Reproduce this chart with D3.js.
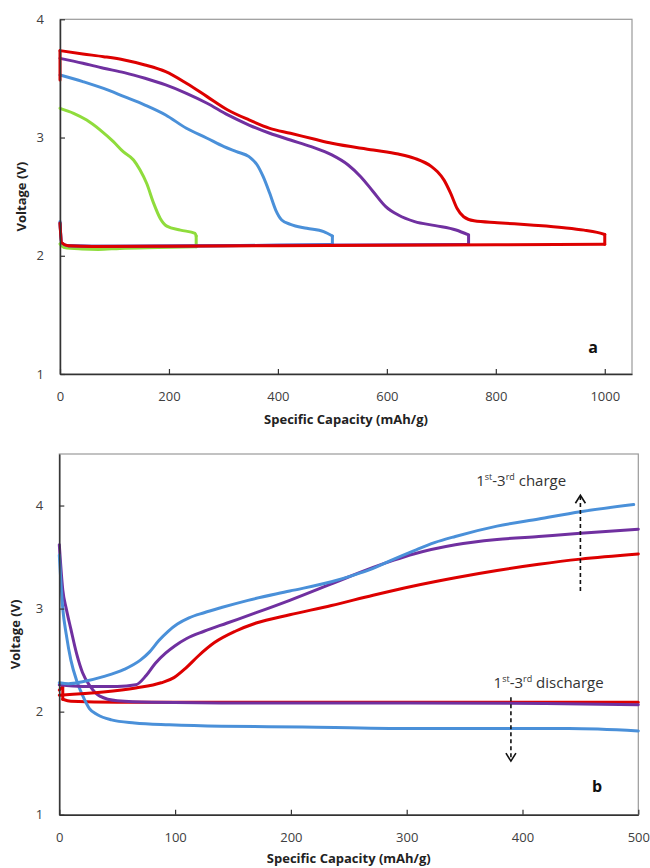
<!DOCTYPE html>
<html>
<head>
<meta charset="utf-8">
<script src="https://cdn.jsdelivr.net/npm/d3@7"></script>
<style>
  body { margin: 0; background: #fff; }
  text { font-family: "Open Sans", "DejaVu Sans", sans-serif; }
</style>
</head>
<body>
<div id="chart"></div>
<script>
// ---- panel a : capacity-limited cycles, [capacity mAh/g, voltage V] ----
var aGreen = [[0,2.10],[8,2.07],[40,2.058],[70,2.054],[110,2.062],[180,2.07],[250,2.077],
  [250,2.167],[248,2.19],[221,2.217],[196,2.251],[184,2.316],[172,2.443],[159,2.613],
  [147,2.725],[135,2.81],[116,2.88],[98,2.965],[74,3.063],[49,3.148],[25,3.205],[0,3.247]];

var aBlue = [[0,2.29],[3,2.11],[15,2.085],[100,2.08],[300,2.085],[500,2.095],
  [500,2.167],[484,2.204],[453,2.232],[423,2.266],[407,2.303],[396,2.387],[385,2.528],
  [373,2.669],[362,2.768],[347,2.838],[324,2.881],[301,2.923],[270,2.994],[232,3.078],
  [194,3.191],[156,3.275],[118,3.346],[80,3.416],[42,3.473],[0,3.529]];

var aPurple = [[0,2.28],[3,2.11],[15,2.085],[100,2.08],[400,2.088],[750,2.095],
  [750,2.176],[727,2.218],[689,2.255],[651,2.289],[621,2.345],[598,2.416],[575,2.542],
  [552,2.669],[529,2.768],[499,2.853],[461,2.923],[423,2.979],[385,3.036],[347,3.106],
  [308,3.191],[270,3.29],[232,3.374],[194,3.445],[156,3.501],[118,3.549],[80,3.586],
  [42,3.628],[0,3.67]];

var aRed = [[0,2.275],[3,2.11],[15,2.085],[60,2.078],[200,2.08],[400,2.085],[600,2.09],
  [800,2.093],[1000,2.097],[1000,2.18],[986,2.198],[962,2.217],[925,2.237],[864,2.26],
  [803,2.28],[760,2.296],[741,2.33],[729,2.40],[717,2.53],[705,2.64],[693,2.71],
  [682,2.754],[651,2.824],[621,2.861],[575,2.895],[499,2.951],[468,2.985],[423,3.036],
  [385,3.078],[347,3.149],[308,3.233],[270,3.346],[232,3.459],[194,3.557],[156,3.614],
  [118,3.656],[80,3.684],[42,3.707],[0,3.735],[0,3.487]];

// ---- panel b : 1st-3rd cycles ----
var bBlueDis = [[0,3.52],[3,3.0],[6,2.75],[10,2.5],[15,2.3],[20,2.16],[26,2.03],[33,1.97],
  [45,1.92],[65,1.89],[95,1.872],[140,1.858],[210,1.852],[310,1.836],[400,1.836],
  [440,1.836],[500,1.813]];
var bPurpleDis = [[0,3.62],[3,3.18],[6,3.0],[10,2.8],[15,2.56],[20,2.38],[27,2.24],
  [35,2.15],[50,2.105],[80,2.09],[140,2.085],[300,2.085],[420,2.08],[500,2.068]];
var bRedDis = [[0,2.21],[3,2.24],[3,2.12],[10,2.10],[50,2.09],[200,2.09],[400,2.09],[500,2.09]];

var bBlueChg = [[0,2.28],[8,2.27],[20,2.29],[38,2.34],[56,2.41],[70,2.50],[78,2.58],
  [86,2.69],[94,2.78],[102,2.85],[112,2.91],[125,2.96],[140,3.01],[163,3.08],[199,3.17],
  [235,3.26],[253,3.32],[271,3.39],[289,3.48],[306,3.56],[324,3.64],[342,3.70],
  [378,3.80],[414,3.87],[450,3.94],[496,4.01]];
var bPurpleChg = [[0,2.26],[20,2.245],[50,2.245],[66,2.26],[75,2.35],[83,2.47],[92,2.57],
  [100,2.64],[110,2.71],[125,2.78],[145,2.86],[170,2.96],[199,3.08],[235,3.24],
  [271,3.40],[289,3.47],[306,3.53],[342,3.62],[378,3.67],[414,3.70],[450,3.73],[500,3.77]];
var bRedChg = [[0,2.16],[38,2.19],[66,2.23],[88,2.28],[99,2.33],[109,2.42],[120,2.54],
  [134,2.67],[152,2.78],[170,2.86],[199,2.94],[235,3.03],[271,3.13],[306,3.22],
  [342,3.30],[378,3.37],[414,3.43],[450,3.48],[500,3.53]];

var aXTicks = [0, 200, 400, 600, 800, 1000];
var bXTicks = [0, 100, 200, 300, 400, 500];
var yTicks = [1, 2, 3, 4];

var red = "#dd0000", purple = "#7030a0", blue = "#4a90d9", green = "#8fdc3c";

var width = 650, height = 868;

var svg = d3.select("#chart").append("svg")
  .attr("width", width)
  .attr("height", height)
  .style("background", "#fff");

// split a loop into pieces that run one way in x, so each can be smoothed on its own
function runs(data) {
  var out = [], cur = [data[0]], dir = 0;
  for (var i = 1; i < data.length; i++) {
    var dx = data[i][0] - data[i - 1][0];
    var s = dx > 0 ? 1 : (dx < 0 ? -1 : 0);
    if (cur.length > 1 && (s !== dir || s === 0)) {
      out.push(cur);
      cur = [data[i - 1]];
    }
    dir = s;
    cur.push(data[i]);
  }
  out.push(cur);
  return out;
}

function panel(opt) {
  var x = d3.scaleLinear().domain(opt.xDomain).range([opt.left, opt.right]);
  var y = d3.scaleLinear().domain(opt.yDomain).range([opt.bottom, opt.top]);

  var g = svg.append("g");

  // frame (top/right are lighter)
  g.append("rect")
    .attr("x", opt.left).attr("y", opt.top)
    .attr("width", opt.right - opt.left).attr("height", opt.bottom - opt.top)
    .attr("fill", "none").attr("stroke", "#9a9a9a").attr("stroke-width", 1.2);

  var lineGen = d3.line()
    .x(function(d) { return x(d[0]); })
    .y(function(d) { return y(d[1]); })
    .curve(d3.curveMonotoneX);

  opt.series.forEach(function(s) {
    g.append("g").selectAll("path")
      .data(runs(s.data))
      .enter()
      .append("path")
      .attr("d", lineGen)
      .attr("fill", "none")
      .attr("stroke", s.color)
      .attr("stroke-width", 3)
      .attr("stroke-linejoin", "round")
      .attr("stroke-linecap", "round");
  });

  // axes, ticks inside
  var xAxis = g.append("g")
    .attr("transform", "translate(0," + opt.bottom + ")")
    .call(d3.axisBottom(x).tickValues(opt.xTicks).tickFormat(d3.format("d"))
      .tickSizeInner(-5).tickSizeOuter(0).tickPadding(18));
  var yAxis = g.append("g")
    .attr("transform", "translate(" + opt.left + ",0)")
    .call(d3.axisLeft(y).tickValues(yTicks).tickFormat(d3.format("d"))
      .tickSizeInner(-5).tickSizeOuter(0).tickPadding(16));

  [xAxis, yAxis].forEach(function(a) {
    a.select(".domain").attr("stroke", "#333").attr("stroke-width", 1.5);
    a.selectAll(".tick line").attr("stroke", "#333").attr("stroke-width", 1.2);
    a.selectAll(".tick text")
      .attr("fill", "#404040")
      .style("font-family", "'Open Sans', sans-serif")
      .style("font-size", "13px");
  });

  // axis titles
  g.append("text")
    .attr("x", (opt.left + opt.right) / 2)
    .attr("y", opt.xTitleY)
    .attr("text-anchor", "middle")
    .attr("font-size", 13).attr("font-weight", "bold").attr("fill", "#222")
    .text("Specific Capacity (mAh/g)");

  g.append("text")
    .attr("transform", "translate(" + opt.yTitleX + "," + ((opt.top + opt.bottom) / 2) + ") rotate(-90)")
    .attr("text-anchor", "middle")
    .attr("font-size", 13).attr("font-weight", "bold").attr("fill", "#222")
    .text("Voltage (V)");

  // panel letter
  g.append("text")
    .attr("x", opt.letterX).attr("y", opt.letterY)
    .attr("text-anchor", "middle")
    .attr("font-size", 16).attr("font-weight", "bold").attr("fill", "#111")
    .text(opt.letter);

  return {x: x, y: y, g: g};
}

// panel a
panel({
  left: 60, right: 632, top: 19.3, bottom: 374,
  xDomain: [0, 1050], yDomain: [1, 4],
  xTicks: aXTicks,
  xTitleY: 424, yTitleX: 26,
  letter: "a", letterX: 593, letterY: 353,
  series: [
    {data: aGreen, color: green},
    {data: aBlue, color: blue},
    {data: aPurple, color: purple},
    {data: aRed, color: red}
  ]
});

// panel b
var b = panel({
  left: 59.3, right: 638.3, top: 454, bottom: 814.7,
  xDomain: [0, 500], yDomain: [1, 4.5],
  xTicks: bXTicks,
  xTitleY: 863, yTitleX: 20,
  letter: "b", letterX: 597, letterY: 792,
  series: [
    {data: bRedDis, color: red},
    {data: bPurpleDis, color: purple},
    {data: bBlueDis, color: blue},
    {data: bRedChg, color: red},
    {data: bPurpleChg, color: purple},
    {data: bBlueChg, color: blue}
  ]
});

// annotations
function label(xv, yv, word) {
  var t = b.g.append("text")
    .attr("x", b.x(xv)).attr("y", b.y(yv))
    .attr("font-size", 15).attr("fill", "#333");
  t.append("tspan").text("1");
  t.append("tspan").attr("font-size", 9).attr("dy", -6).text("st");
  t.append("tspan").attr("dy", 6).text("-3");
  t.append("tspan").attr("font-size", 9).attr("dy", -6).text("rd");
  t.append("tspan").attr("dy", 6).text(" " + word);
}
label(360, 4.19, "charge");
label(375, 2.23, "discharge");

function arrow(xv, y0, y1) {
  var px = b.x(xv), p0 = b.y(y0), p1 = b.y(y1);
  var dir = p1 < p0 ? 1 : -1;
  b.g.append("line")
    .attr("x1", px).attr("x2", px).attr("y1", p0).attr("y2", p1)
    .attr("stroke", "#111").attr("stroke-width", 1.6)
    .attr("stroke-dasharray", "4,3");
  b.g.append("path")
    .attr("d", "M" + (px - 5) + "," + (p1 + dir * 8) + "L" + px + "," + p1 + "L" + (px + 5) + "," + (p1 + dir * 8))
    .attr("fill", "none").attr("stroke", "#111").attr("stroke-width", 1.6);
}
arrow(450, 3.17, 4.10);
arrow(390, 2.14, 1.52);
</script>
</body>
</html>
